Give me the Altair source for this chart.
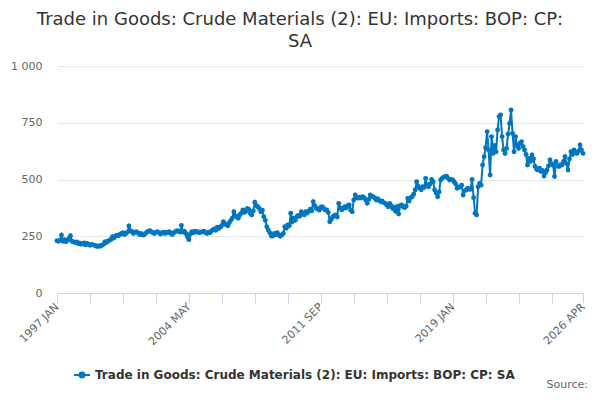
import altair as alt
import pandas as pd

title_lines = ["Trade in Goods: Crude Materials (2): EU: Imports: BOP: CP:", "SA"]
series_name = "Trade in Goods: Crude Materials (2): EU: Imports: BOP: CP: SA"
source_text = ["Source:"]

# monthly values, Jan 1997 .. Apr 2026
v1997 = [230, 228, 232, 255, 228, 235, 226, 232, 240, 252, 228, 225]
v1998 = [222, 225, 218, 220, 215, 218, 220, 212, 218, 215, 210, 214]
v1999 = [212, 210, 207, 205, 208, 206, 210, 214, 226, 222, 228, 232]
v2000 = [236, 248, 242, 250, 255, 252, 258, 262, 266, 258, 262, 268]
v2001 = [295, 275, 270, 262, 268, 270, 265, 258, 262, 256, 255, 262]
v2002 = [268, 272, 275, 270, 265, 262, 268, 270, 266, 260, 264, 268]
v2003 = [262, 268, 265, 270, 262, 258, 266, 270, 275, 272, 268, 298]
v2004 = [268, 272, 262, 248, 235, 260, 270, 265, 272, 268, 270, 265]
v2005 = [268, 270, 272, 266, 262, 268, 265, 272, 278, 282, 276, 290]
v2006 = [285, 290, 298, 314, 305, 300, 296, 310, 320, 330, 358, 340]
v2007 = [335, 329, 345, 352, 366, 355, 360, 373, 368, 350, 344, 362]
v2008 = [400, 385, 380, 372, 358, 365, 336, 320, 292, 277, 265, 251]
v2009 = [251, 262, 258, 266, 255, 250, 256, 262, 292, 285, 300, 296]
v2010 = [351, 314, 330, 320, 336, 342, 338, 358, 350, 345, 358, 352]
v2011 = [360, 369, 362, 402, 385, 373, 370, 365, 378, 380, 372, 366]
v2012 = [366, 355, 314, 325, 336, 340, 344, 335, 395, 375, 366, 372]
v2013 = [380, 375, 385, 388, 365, 358, 410, 432, 420, 417, 422, 418]
v2014 = [424, 420, 410, 395, 412, 432, 425, 424, 418, 410, 415, 408]
v2015 = [402, 405, 398, 395, 388, 380, 395, 385, 372, 378, 360, 380]
v2016 = [348, 385, 388, 380, 376, 382, 417, 405, 420, 424, 435, 454]
v2017 = [490, 470, 461, 455, 468, 465, 505, 475, 468, 480, 500, 490]
v2018 = [454, 440, 424, 445, 498, 505, 510, 512, 515, 505, 498, 500]
v2019 = [498, 490, 480, 461, 465, 468, 475, 432, 450, 454, 462, 457]
v2020 = [457, 500, 420, 351, 344, 468, 483, 475, 564, 600, 640, 711]
v2021 = [630, 520, 689, 615, 650, 622, 718, 777, 784, 689, 630, 615]
v2022 = [637, 700, 747, 806, 703, 622, 689, 650, 637, 660, 667, 645]
v2023 = [630, 610, 564, 593, 580, 608, 590, 557, 545, 542, 550, 535]
v2024 = [540, 515, 530, 542, 560, 586, 570, 564, 513, 579, 560, 557]
v2025 = [565, 564, 580, 600, 570, 542, 590, 622, 610, 630, 620, 615]
v2026 = [625, 652, 630, 615]

values = (v1997 + v1998 + v1999 + v2000 + v2001 + v2002 + v2003 + v2004 + v2005
          + v2006 + v2007 + v2008 + v2009 + v2010 + v2011 + v2012 + v2013 + v2014
          + v2015 + v2016 + v2017 + v2018 + v2019 + v2020 + v2021 + v2022 + v2023
          + v2024 + v2025 + v2026)
month_index = list(range(len(values)))

x_tick_index = [0, 22, 44, 66, 88, 110, 132, 154, 176, 198, 220, 242, 264, 286, 308, 330, 351]
x_label_index = [0, 88, 176, 264, 351]
x_labels = ["1997 JAN", "2004 MAY", "2011 SEP", "2019 JAN", "2026 APR"]
y_ticks = [0, 250, 500, 750, 1000]

BLUE = "#0076c0"
FONT = "DejaVu Sans"

df = pd.DataFrame({"i": month_index, "value": values, "series": series_name})

label_expr = "".join(
    f"datum.value == {p} ? '{l}' : " for p, l in zip(x_label_index, x_labels)
) + "''"

line = alt.Chart(df).mark_line(
    strokeWidth=2,
    point=alt.OverlayMarkDef(filled=True, size=24),
).encode(
    x=alt.X(
        "i:Q",
        scale=alt.Scale(domain=[0, len(values) - 1], nice=False, zero=False),
        axis=alt.Axis(
            values=x_tick_index, labelExpr=label_expr, labelAngle=315,
            labelAlign="right", labelBaseline="middle", tickSize=10,
            tickColor="#ccd6eb", domainColor="#ccd6eb", grid=False, title=None,
            labelFontSize=11, labelColor="#666666", labelFont=FONT,
            labelPadding=2, labelOverlap=False, labelFlush=False,
        ),
    ),
    y=alt.Y(
        "value:Q",
        scale=alt.Scale(domain=[0, 1000], nice=False),
        axis=alt.Axis(
            values=y_ticks, labelExpr="replace(format(datum.value, ','), ',', ' ')",
            domain=False, ticks=False, grid=True, gridColor="#e6e6e6",
            labelPadding=15, title=None, labelFontSize=11,
            labelColor="#666666", labelFont=FONT,
        ),
    ),
    color=alt.Color(
        "series:N",
        scale=alt.Scale(range=[BLUE]),
        legend=alt.Legend(
            orient="none", legendX=16, legendY=300, title=None,
            symbolType="M-1,0L1,0M0.3,0A0.3,0.3,0,1,1,-0.3,0A0.3,0.3,0,1,1,0.3,0",
            symbolSize=256, symbolStrokeWidth=2, symbolFillColor=BLUE,
            symbolStrokeColor=BLUE,
            labelFont=FONT, labelFontWeight="bold", labelFontSize=12,
            labelColor="#333333", labelLimit=1000, padding=0,
        ),
    ),
)

src = alt.Chart(pd.DataFrame({"t": source_text})).mark_text(
    align="right", baseline="middle", fontSize=11, color="#666666", font=FONT
).encode(text="t:N", x=alt.value(531), y=alt.value(319))

chart = alt.layer(line, src).properties(
    width=526,
    height=227,
    padding={"left": 49, "top": 58, "right": 8, "bottom": 99},
    autosize=alt.AutoSizeParams(type="none"),
    title=alt.Title(
        title_lines, fontSize=18, font=FONT, fontWeight="normal",
        color="#333333", anchor="middle", lineHeight=22, dx=-20, offset=9,
    ),
).configure_view(stroke=None)

chart.save("out.html", embed_options={"renderer": "svg", "actions": False})
